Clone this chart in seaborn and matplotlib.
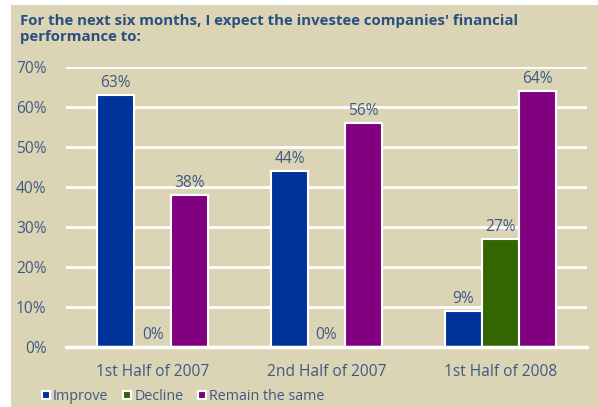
import matplotlib
matplotlib.use("Agg")
import matplotlib.pyplot as plt
import seaborn as sns
import pandas as pd
from matplotlib.patches import Rectangle
from matplotlib.lines import Line2D

periods = ["1st Half of 2007", "2nd Half of 2007", "1st Half of 2008"]
series = ["Improve", "Decline", "Remain the same"]
improve = [63, 44, 9]
decline = [0, 0, 27]
remain = [38, 56, 64]
yticks = [0, 10, 20, 30, 40, 50, 60, 70]
title = "For the next six months, I expect the investee companies' financial\nperformance to:"

colors = ["#003399", "#336600", "#800080"]
bg = "#DCD5B5"
txt = "#3D5A85"
title_c = "#2A4F80"

df = pd.DataFrame({
    "period": periods * 3,
    "series": [series[0]] * 3 + [series[1]] * 3 + [series[2]] * 3,
    "value": improve + decline + remain,
})

sns.set_theme(style="white")
plt.rcParams["font.family"] = ["Open Sans", "DejaVu Sans"]

fig = plt.figure(figsize=(5.98, 4.07), dpi=100)
fig.patch.set_facecolor("white")
fig.patches.append(Rectangle((11 / 598, 0), 1, (407 - 5) / 407, transform=fig.transFigure,
                             facecolor=bg, edgecolor="none", zorder=-10))

ax = fig.add_axes([66 / 598, 60 / 407, (587 - 66) / 598, 280 / 407])
ax.set_facecolor("none")

sns.barplot(data=df, x="period", y="value", hue="series", hue_order=series,
            palette=colors, width=0.64, edgecolor="white", linewidth=1.5,
            saturation=1, ax=ax, legend=False, zorder=3)

fs = 11.2
ax.set_ylim(0, 70)
ax.set_xlim(-0.5, 2.5)
ax.set_yticks(yticks)
ax.set_yticklabels([f"{v}%" for v in yticks], color=txt, fontsize=fs)
ax.tick_params(axis="y", length=0, pad=14)
ax.tick_params(axis="x", length=0, pad=12, labelsize=fs, labelcolor=txt)
ax.set_xlabel("")
ax.set_ylabel("")
for s in ax.spines.values():
    s.set_visible(False)
ax.yaxis.grid(True, color="white", linewidth=2)
ax.set_axisbelow(True)
ax.axhline(0, color="white", linewidth=2.5, zorder=4, clip_on=False)

for cont in ax.containers:
    ax.bar_label(cont, labels=[f"{v:.0f}%" for v in cont.datavalues],
                 padding=3, color=txt, fontsize=fs)

fig.text(20 / 598, 1 - 14 / 407, title, color=title_c, fontsize=10.8,
         fontweight="bold", va="top", ha="left", linespacing=1.2)

handles = [Line2D([], [], marker="s", linestyle="none", markersize=6,
                  markerfacecolor=c, markeredgecolor="white", markeredgewidth=1.5)
           for c in colors]
fig.legend(handles, series, loc="center left", bbox_to_anchor=(40 / 598, 1 - 397 / 407),
           ncol=3, frameon=False, handletextpad=0.1, columnspacing=0.9,
           handlelength=0.8, fontsize=10.3, labelcolor=txt, borderaxespad=0, borderpad=0)

fig.savefig("out.png", dpi=100)
